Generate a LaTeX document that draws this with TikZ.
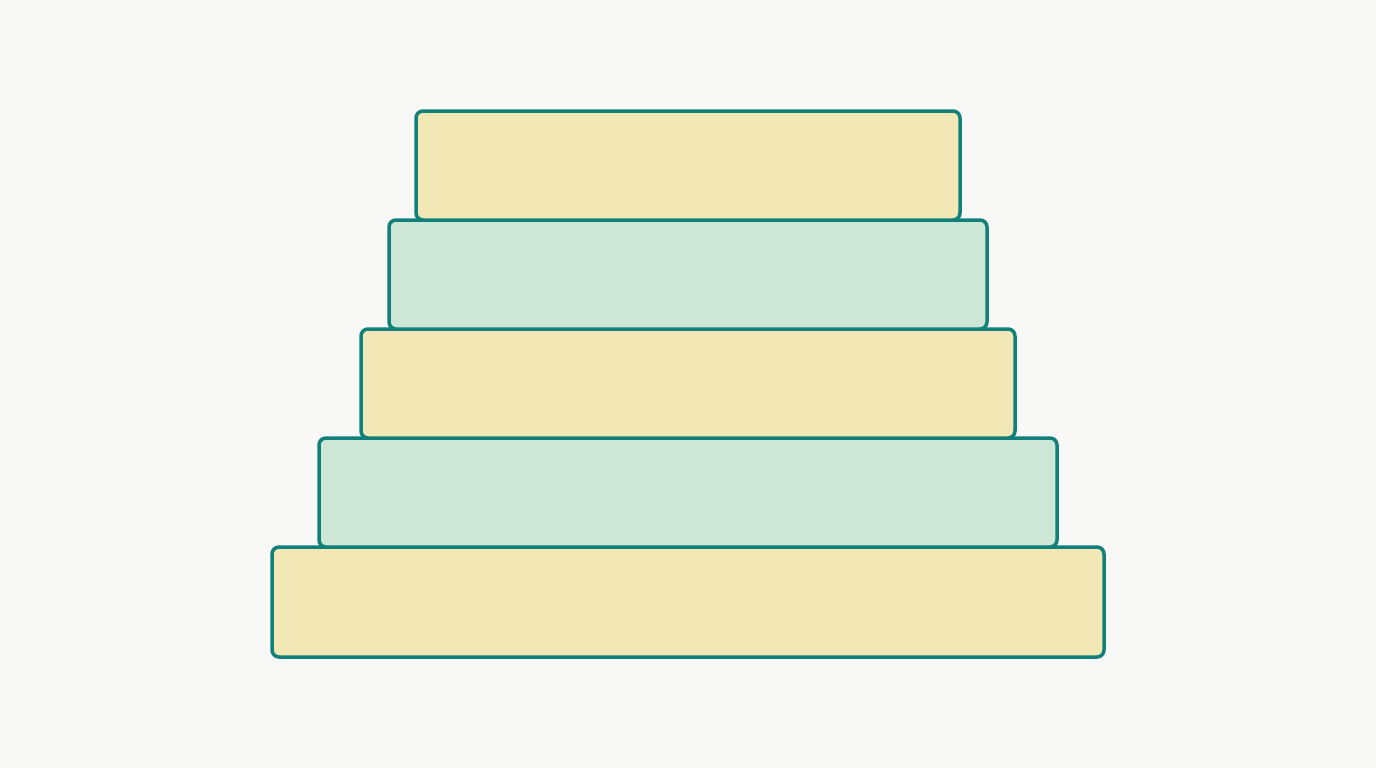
\documentclass[tikz,border=0pt]{standalone}
\definecolor{bg}{HTML}{F8F8F6}
\definecolor{tier}{HTML}{12807A}
\definecolor{ylw}{HTML}{F2E8B6}
\definecolor{grn}{HTML}{CEE6D6}
\begin{document}
\begin{tikzpicture}[x=1pt,y=-1pt,
  tierbox/.style={draw=tier,line width=3.5pt,rounded corners=7pt,minimum height=109pt,inner sep=0pt,anchor=center},
  yb/.style={tierbox,fill=ylw},
  gb/.style={tierbox,fill=grn}]
\fill[bg] (0,0) rectangle (1376,768);
\useasboundingbox (0,0) rectangle (1376,768);
\node[yb,minimum width=832pt,minimum height=110pt] (t5) at (688,602) {};
\node[gb,minimum width=738pt] (t4) at (688,492.5) {};
\node[yb,minimum width=654pt] (t3) at (688,383.5) {};
\node[gb,minimum width=598pt] (t2) at (688,274.5) {};
\node[yb,minimum width=544pt] (t1) at (688,165.5) {};
\end{tikzpicture}
\end{document}
